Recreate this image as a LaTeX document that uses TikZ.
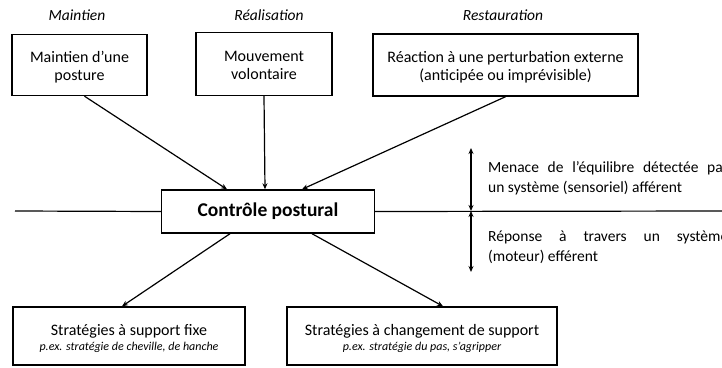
\documentclass[tikz,border=0pt]{standalone}
\usepackage{fontspec}
\setmainfont{Carlito}
\usetikzlibrary{arrows.meta}
% stacked, centred lines, lowered inside their box without changing its extent
\newcommand\stacklines[2][3pt]{\raisebox{-#1}[\height][\depth]{\begin{tabular}{@{}c@{}}#2\end{tabular}}}
\newcommand\example[1]{{\fontsize{12}{14}\selectfont\itshape #1}}
\begin{document}
\begin{tikzpicture}[x=1pt,y=-1pt,
  box/.style={draw,line width=1.4pt,inner sep=0pt,
    font=\fontsize{16}{18.5}\selectfont},
  head/.style={font=\fontsize{15.5}{19}\selectfont\itshape},
  arr/.style={line width=1.2pt,-{Stealth[length=6pt,width=5pt]}},
  dbl/.style={line width=1.2pt,{Stealth[length=6pt,width=5pt]}-{Stealth[length=6pt,width=5pt]}},
  side/.style={anchor=north west,inner sep=0pt,text width=240pt,align=justify,
    font=\fontsize{15.5}{20}\selectfont}]
\clip (0,0) rectangle (722,367);

% section headings
\node[head] (h1) at (77,15) {Maintien};
\node[head] (h2) at (269,15) {Réalisation};
\node[head] (h3) at (503,15) {Restauration};

% source boxes
\node[box,minimum width=135pt,minimum height=61pt] (b1) at (79.5,65) {\stacklines{Maintien d’une\\posture}};
\node[box,minimum width=136pt,minimum height=63pt] (b2) at (264,64) {\stacklines{Mouvement\\volontaire}};
\node[box,minimum width=265pt,minimum height=62pt] (b3) at (505.5,65) {\stacklines{Réaction à une perturbation externe\\(anticipée ou imprévisible)}};

% central box
\node[box,minimum width=213pt,minimum height=43pt,font=\fontsize{19.5}{22}\selectfont\bfseries] (c) at (268,211.5) {Contrôle postural};

% strategy boxes
\node[box,minimum width=232pt,minimum height=58pt,font=\fontsize{16}{19}\selectfont] (s1) at (129,336) {\stacklines[3.5pt]{Stratégies à support fixe\\[-4pt]\example{p.ex. stratégie de cheville, de hanche}}};
\node[box,minimum width=270pt,minimum height=58pt,font=\fontsize{16}{19}\selectfont] (s2) at (422,336) {\stacklines[3.5pt]{Stratégies à changement de support\\[-4pt]\example{p.ex. stratégie du pas, s’agripper}}};

% horizontal axis through the central box
\coordinate (L) at (15,211);
\coordinate (R) at (722,211);
\draw[line width=1.2pt] (L) -- (c.west);
\draw[line width=1.2pt] (c.east) -- (R);

% inputs
\draw[arr] ([xshift=5pt]b1.south) -- ([xshift=-41pt]c.north);
\draw[arr] (b2.south) -- ([xshift=-3pt]c.north);
\draw[arr] (b3.south) -- ([xshift=34pt]c.north);

% outputs
\draw[arr] ([xshift=-38pt]c.south) -- ([xshift=-7pt]s1.north);
\draw[arr] ([xshift=44pt]c.south) -- ([xshift=21pt]s2.north);

% afferent / efferent arrows
\coordinate (u) at (471,148);
\coordinate (m) at (471,211);
\coordinate (d) at (471,272);
\draw[dbl] (u) -- (m);
\draw[dbl] (m) -- (d);

\node[side] (t1) at (488,161) {Menace de l’équilibre détectée par\linebreak un système (sensoriel) afférent};
\node[side] (t2) at (488,231) {Réponse à travers un système\linebreak (moteur) efférent};
\end{tikzpicture}
\end{document}
